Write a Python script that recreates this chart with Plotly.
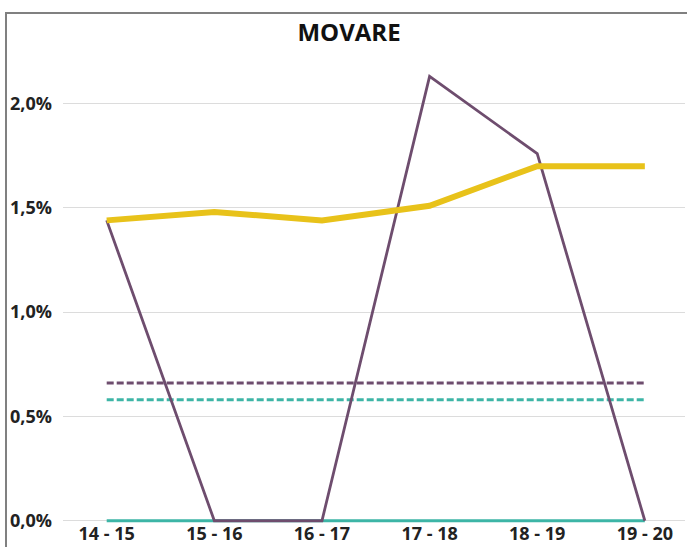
import plotly.graph_objects as go

# School years on the category axis
categories = ["14 - 15", "15 - 16", "16 - 17", "17 - 18", "18 - 19", "19 - 20"]

# Rates in percent
rate_main = [1.44, 1.48, 1.44, 1.51, 1.70, 1.70]
rate_purple = [1.44, 0.0, 0.0, 2.13, 1.76, 0.0]
rate_teal = [0.0, 0.0, 0.0, 0.0, 0.0, 0.0]
avg_purple = [0.66, 0.66, 0.66, 0.66, 0.66, 0.66]
avg_teal = [0.58, 0.58, 0.58, 0.58, 0.58, 0.58]

# Y axis ticks
y_ticks = [0.0, 0.5, 1.0, 1.5, 2.0]
y_tick_labels = ["0,0%", "0,5%", "1,0%", "1,5%", "2,0%"]

YELLOW = "#e8c21a"
PURPLE = "#6e4d6e"
TEAL = "#3db5a6"

x = list(range(len(categories)))

# A little room under zero so the baseline series is not clipped
y_min, y_max = -0.03, 2.3

fig = go.Figure()
fig.add_trace(go.Scatter(x=x, y=rate_teal, mode="lines",
                         line=dict(color=TEAL, width=3)))
fig.add_trace(go.Scatter(x=x, y=avg_purple, mode="lines",
                         line=dict(color=PURPLE, width=3, dash="7px,3px")))
fig.add_trace(go.Scatter(x=x, y=avg_teal, mode="lines",
                         line=dict(color=TEAL, width=3, dash="7px,3px")))
fig.add_trace(go.Scatter(x=x, y=rate_purple, mode="lines",
                         line=dict(color=PURPLE, width=2.8)))
fig.add_trace(go.Scatter(x=x, y=rate_main, mode="lines",
                         line=dict(color=YELLOW, width=6)))

fig.update_layout(
    width=687, height=547,
    margin=dict(l=63, r=2, t=41, b=20),
    paper_bgcolor="white", plot_bgcolor="white",
    showlegend=False,
    font=dict(family="Open Sans", color="#1a1a1a"),
    title=dict(text="MOVARE", xref="container", yref="container",
               x=349 / 687, y=1 - 33 / 547, xanchor="center", yanchor="middle",
               font=dict(family="Open Sans", size=24, weight="bold", color="#111111")),
    xaxis=dict(
        range=[-0.406, 5.373],
        tickvals=x, ticktext=categories,
        showgrid=False, zeroline=False, showline=False,
        tickfont=dict(size=18, weight="bold", color="#222222"),
        ticks="",
        anchor="free", position=(0 - y_min) / (y_max - y_min),
    ),
    yaxis=dict(
        range=[y_min, y_max],
        tickvals=y_ticks, ticktext=y_tick_labels,
        showgrid=True, gridcolor="#dcdcdc", gridwidth=1,
        zeroline=False, showline=False,
        tickfont=dict(size=18, weight="bold", color="#222222"),
        ticklabelstandoff=10,
    ),
    shapes=[dict(type="rect", xref="paper", yref="paper",
                 x0=(6 - 63) / 622, x1=1.05, y0=-0.2, y1=(527 - 13) / 486,
                 line=dict(color="#808080", width=2), layer="below")],
)

fig.write_html("out.html")
